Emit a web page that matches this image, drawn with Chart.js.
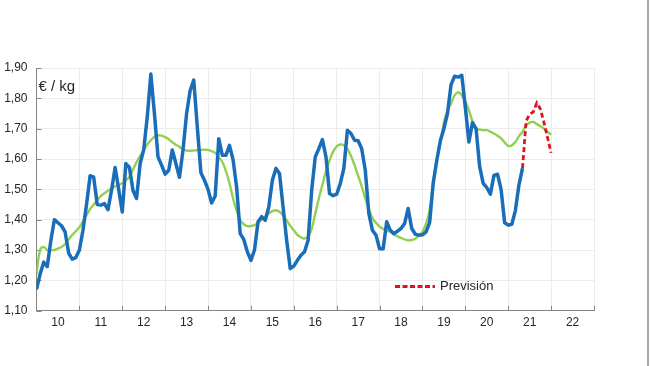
<!DOCTYPE html>
<html>
<head>
<meta charset="utf-8">
<script src="https://cdn.jsdelivr.net/npm/chart.js@4.4.1/dist/chart.umd.min.js"></script>
<style>
  html, body { margin: 0; padding: 0; background: #fff; }
  #wrap { position: relative; width: 650px; height: 366px; }
</style>
</head>
<body>
<div id="wrap"><canvas id="chart" width="650" height="366"></canvas></div>
<script>
// monthly series, first month = Jan 2010
const startYear = 2010;
const yearLabels = ['10', '11', '12', '13', '14', '15', '16', '17', '18', '19', '20', '21', '22'];
const unitLabel = '€ / kg';
const forecastLabel = 'Previsión';

// observed price (blue)
const precio = [
  1.17, 1.22, 1.26, 1.245, 1.33, 1.40, 1.39, 1.38, 1.36, 1.29, 1.27, 1.275,
  1.30, 1.365, 1.45, 1.545, 1.54, 1.45, 1.448, 1.453, 1.433, 1.497, 1.572, 1.50,
  1.425, 1.585, 1.572, 1.497, 1.47, 1.585, 1.63, 1.74, 1.88, 1.75, 1.607, 1.58,
  1.55, 1.563, 1.63, 1.585, 1.54, 1.63, 1.75, 1.826, 1.86, 1.705, 1.555, 1.53,
  1.50, 1.455, 1.478, 1.667, 1.612, 1.612, 1.645, 1.598, 1.508, 1.354, 1.335, 1.294,
  1.266, 1.30, 1.393, 1.41, 1.398, 1.442, 1.53, 1.569, 1.552, 1.442, 1.332, 1.239,
  1.247, 1.266, 1.283, 1.294, 1.332, 1.497, 1.607, 1.634, 1.664, 1.607, 1.486, 1.479,
  1.484, 1.519, 1.569, 1.695, 1.684, 1.662, 1.66, 1.634, 1.563, 1.42, 1.365, 1.349,
  1.304, 1.304, 1.393, 1.365, 1.354, 1.362, 1.371, 1.387, 1.437, 1.371, 1.352, 1.349,
  1.35, 1.36, 1.39, 1.52, 1.595, 1.66, 1.70, 1.75, 1.845, 1.873, 1.87, 1.876,
  1.77, 1.656, 1.72, 1.70, 1.575, 1.52, 1.506, 1.484, 1.546, 1.55, 1.50, 1.39,
  1.382, 1.385, 1.43, 1.515, 1.57
];

// trend (green)
const tendencia = [
  1.22, 1.30, 1.31, 1.30, 1.30, 1.30, 1.305, 1.31, 1.32, 1.335, 1.35, 1.362,
  1.375, 1.395, 1.415, 1.435, 1.45, 1.465, 1.478, 1.487, 1.495, 1.503, 1.51, 1.515,
  1.52, 1.53, 1.542, 1.565, 1.59, 1.61, 1.63, 1.648, 1.662, 1.673, 1.678, 1.677,
  1.672, 1.665, 1.655, 1.647, 1.64, 1.632, 1.628, 1.627, 1.628, 1.629, 1.63, 1.631,
  1.63, 1.626, 1.62, 1.605, 1.59, 1.56, 1.52, 1.47, 1.43, 1.40, 1.385, 1.379,
  1.379, 1.382, 1.39, 1.40, 1.41, 1.42, 1.428, 1.431, 1.426, 1.414, 1.398, 1.38,
  1.365, 1.35, 1.342, 1.338, 1.345, 1.37, 1.42, 1.47, 1.515, 1.56, 1.595, 1.625,
  1.642, 1.648, 1.645, 1.633, 1.61, 1.58, 1.545, 1.51, 1.47, 1.435, 1.405, 1.39,
  1.377, 1.37, 1.363, 1.36, 1.352, 1.345, 1.34, 1.335, 1.332, 1.333, 1.337, 1.348,
  1.36, 1.387, 1.43, 1.52, 1.60, 1.65, 1.72, 1.76, 1.783, 1.81, 1.82, 1.81,
  1.79, 1.76, 1.725, 1.70, 1.697, 1.695, 1.695, 1.69, 1.684, 1.677, 1.668, 1.655,
  1.643, 1.645, 1.656, 1.675, 1.69, 1.71, 1.72, 1.722, 1.715, 1.708, 1.70, 1.69,
  1.68
];

// forecast (red dashed), starts at last observed month
const previsionStart = 136;
const prevision = [1.57, 1.725, 1.748, 1.755, 1.785, 1.765, 1.72, 1.67, 1.62];

const monthX = i => startYear + i / 12;
const toPoints = (arr, offset) => arr.map((v, i) => ({ x: monthX(i + offset), y: v }));

const axisColor = '#858585';
const gridColor = '#ececec';
const textColor = '#262626';
const fontFamily = '"Liberation Sans", Arial, sans-serif';

// background, right frame line, inward tick marks, unit label and legend
const decor = {
  id: 'decor',
  beforeDraw(chart) {
    const ctx = chart.ctx;
    ctx.save();
    ctx.fillStyle = '#fff';
    ctx.fillRect(0, 0, chart.width, chart.height);
    ctx.fillStyle = '#a8a8a8';
    ctx.fillRect(647, 0, 2, chart.height);
    ctx.restore();
  },
  beforeDatasetsDraw(chart) {
    const { ctx, chartArea } = chart;
    const xs = chart.scales.x;
    const ys = chart.scales.y;
    ctx.save();
    ctx.strokeStyle = axisColor;
    ctx.lineWidth = 1;
    ctx.beginPath();
    for (let yr = startYear + 1; yr <= startYear + yearLabels.length; yr++) {
      const px = Math.round(xs.getPixelForValue(yr)) + 0.5;
      ctx.moveTo(px, chartArea.bottom);
      ctx.lineTo(px, chartArea.bottom - 5);
    }
    ys.ticks.forEach(t => {
      const py = Math.round(ys.getPixelForValue(t.value)) + 0.5;
      ctx.moveTo(chartArea.left, py);
      ctx.lineTo(chartArea.left + 5, py);
    });
    ctx.stroke();
    ctx.restore();
  },
  afterDraw(chart) {
    const { ctx, chartArea } = chart;
    ctx.save();
    ctx.fillStyle = textColor;
    ctx.textBaseline = 'middle';
    ctx.font = '15px ' + fontFamily;
    ctx.fillText(unitLabel, chartArea.left + 2, 87);

    // legend
    ctx.strokeStyle = '#e0141e';
    ctx.lineWidth = 3;
    ctx.setLineDash([5, 2.5]);
    ctx.beginPath();
    ctx.moveTo(395, 286.5);
    ctx.lineTo(435, 286.5);
    ctx.stroke();
    ctx.setLineDash([]);
    ctx.font = '13px ' + fontFamily;
    ctx.fillText(forecastLabel, 440, 286.5);
    ctx.restore();
  }
};

new Chart(document.getElementById('chart'), {
  type: 'line',
  data: {
    datasets: [
      {
        label: forecastLabel,
        data: toPoints(prevision, previsionStart),
        borderColor: '#e0141e',
        borderWidth: 2.8,
        borderDash: [5, 3],
        pointRadius: 0,
        tension: 0
      },
      {
        label: 'Precio',
        data: toPoints(precio, 0),
        borderColor: '#1a6db8',
        borderWidth: 3.5,
        pointRadius: 0,
        tension: 0,
        borderJoinStyle: 'round'
      },
      {
        label: 'Tendencia',
        data: toPoints(tendencia, 0),
        borderColor: '#92d050',
        borderWidth: 2.4,
        pointRadius: 0,
        tension: 0.4
      }
    ]
  },
  options: {
    responsive: false,
    animation: false,
    devicePixelRatio: 1,
    layout: { padding: { top: 68, right: 56, left: 0, bottom: 0 } },
    plugins: {
      legend: { display: false },
      tooltip: { enabled: false }
    },
    scales: {
      x: {
        type: 'linear',
        position: 'bottom',
        min: startYear,
        max: startYear + yearLabels.length,
        grid: { color: gridColor, drawTicks: false },
        border: { color: axisColor },
        ticks: { display: false, stepSize: 1 }
      },
      xl: {
        type: 'linear',
        position: 'bottom',
        min: startYear,
        max: startYear + yearLabels.length,
        grid: { display: false, drawTicks: false },
        border: { display: false },
        afterBuildTicks: s => {
          s.ticks = yearLabels.map((_, i) => ({ value: startYear + i + 0.5 }));
        },
        ticks: {
          autoSkip: false,
          maxRotation: 0,
          padding: 5,
          color: textColor,
          font: { family: fontFamily, size: 12 },
          callback: v => yearLabels[Math.round(v - startYear - 0.5)]
        },
        afterFit: s => { s.height = 55.3; }
      },
      y: {
        min: 1.1,
        max: 1.9,
        grid: { color: gridColor, drawTicks: false },
        border: { color: axisColor },
        ticks: {
          stepSize: 0.1,
          padding: 9,
          color: textColor,
          font: { family: fontFamily, size: 12 },
          callback: v => v.toFixed(2).replace('.', ',')
        },
        afterFit: s => { s.width = 36.5; }
      }
    }
  },
  plugins: [decor]
});
</script>
</body>
</html>
